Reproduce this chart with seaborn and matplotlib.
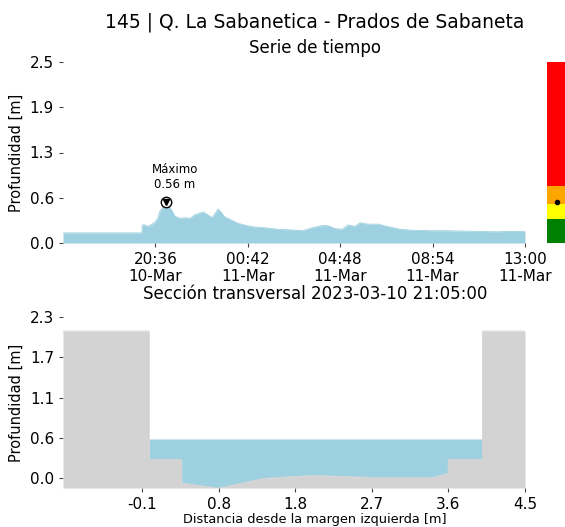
import numpy as np
import pandas as pd
import seaborn as sns
import matplotlib.pyplot as plt
import matplotlib.dates as mdates

# serie de tiempo (profundidad en m)
times = ["2023-03-10 16:30", "2023-03-10 20:00", "2023-03-10 20:01", "2023-03-10 20:08",
         "2023-03-10 20:16", "2023-03-10 20:27", "2023-03-10 20:35", "2023-03-10 20:43",
         "2023-03-10 20:48", "2023-03-10 21:05", "2023-03-10 21:15", "2023-03-10 21:28",
         "2023-03-10 21:41", "2023-03-10 21:55", "2023-03-10 22:08", "2023-03-10 22:21",
         "2023-03-10 22:43", "2023-03-10 23:07", "2023-03-10 23:23", "2023-03-10 23:41",
         "2023-03-11 00:16", "2023-03-11 00:53", "2023-03-11 01:28", "2023-03-11 02:02",
         "2023-03-11 02:40", "2023-03-11 03:09", "2023-03-11 03:33", "2023-03-11 03:59",
         "2023-03-11 04:15", "2023-03-11 04:34", "2023-03-11 04:53", "2023-03-11 05:09",
         "2023-03-11 05:27", "2023-03-11 05:41", "2023-03-11 06:02", "2023-03-11 06:29",
         "2023-03-11 07:00", "2023-03-11 07:27", "2023-03-11 08:02", "2023-03-11 08:47",
         "2023-03-11 09:32", "2023-03-11 10:15", "2023-03-11 11:00", "2023-03-11 11:45",
         "2023-03-11 12:12", "2023-03-11 13:00"]
depth = [0.14, 0.14, 0.25, 0.25, 0.23, 0.26, 0.29, 0.35, 0.44, 0.56, 0.49, 0.37,
         0.34, 0.35, 0.34, 0.39, 0.43, 0.35, 0.47, 0.36, 0.27, 0.225, 0.21, 0.19,
         0.18, 0.17, 0.21, 0.24, 0.24, 0.20, 0.19, 0.25, 0.23, 0.28, 0.26, 0.26,
         0.22, 0.19, 0.175, 0.17, 0.17, 0.165, 0.16, 0.155, 0.16, 0.16]
t_start, t_end = "2023-03-10 16:30", "2023-03-11 13:00"
max_time, max_depth = "2023-03-10 21:05", 0.56

# umbrales de alerta
alert_levels = [0.0, 0.33, 0.54, 0.79, 2.5]
alert_colors = ["green", "yellow", "orange", "red"]

# seccion transversal
section_x = [-1.03, 0.0, 0.0, 0.39, 0.39, 0.83, 1.39, 1.8, 2.0, 2.7, 3.4, 3.58, 3.58, 3.99, 3.99, 4.5]
section_y = [2.1, 2.1, 0.27, 0.27, -0.07, -0.14, 0.0, 0.03, 0.04, 0.01, 0.01, 0.07, 0.27, 0.27, 2.1, 2.1]
water_level = 0.56

water_color = "#9dd0e0"
ground_color = "lightgray"

sns.set_style("ticks")
plt.rcParams['font.family'] = ['DejaVu Sans']
plt.rcParams['text.color'] = 'black'
plt.rcParams['axes.labelcolor'] = 'black'
plt.rcParams['xtick.labelcolor'] = 'black'
plt.rcParams['ytick.labelcolor'] = 'black'

fig = plt.figure(figsize=(5.65, 5.27), dpi=100)
W, H = 565, 527

def px_axes(x0, y0, x1, y1):
    return fig.add_axes([x0 / W, 1 - y1 / H, (x1 - x0) / W, (y1 - y0) / H])

# --- serie de tiempo ---
ax1 = px_axes(63, 62, 525, 243)
ts = pd.DataFrame({"t": pd.to_datetime(times), "d": depth})
ax1.fill_between(ts["t"], 0, ts["d"], color=water_color, lw=0)
sns.lineplot(data=ts, x="t", y="d", color=water_color, lw=0.6, ax=ax1)
t0, t1 = mdates.date2num(pd.to_datetime(t_start)), mdates.date2num(pd.to_datetime(t_end))
ax1.set_xlim(t0, t1)
ax1.set_ylim(0, 2.5)
ax1.set_xticks(np.linspace(t0, t1, 6)[1:])
ax1.xaxis.set_major_formatter(mdates.DateFormatter("%H:%M\n%d-%b"))
ax1.set_yticks(np.linspace(0, 2.5, 5))
ax1.set_yticklabels(["0.0", "0.6", "1.3", "1.9", "2.5"])
ax1.set_xlabel("")
ax1.set_ylabel("Profundidad [m]", fontsize=10.5)
mt = pd.to_datetime(max_time)
ax1.plot(mt, max_depth, "o", ms=7.5, mfc="white", mec="black", mew=1)
ax1.plot(mt, max_depth, "v", ms=4, color="black")
ax1.annotate("Máximo\n0.56 m", (mt, max_depth), xytext=(6, 8), textcoords="offset points",
             ha="center", va="bottom", fontsize=8.5)

# --- barra de alertas ---
ax3 = px_axes(547, 62, 567, 243)
for lo, hi, c in zip(alert_levels[:-1], alert_levels[1:], alert_colors):
    ax3.axhspan(lo, hi, color=c, lw=0)
ax3.plot(0.5, max_depth, "o", color="black", ms=3)
ax3.set_xlim(0, 1)
ax3.set_ylim(0, 2.5)
ax3.axis("off")

# --- seccion transversal ---
ax2 = px_axes(63, 317, 525, 488)
sx = np.array(section_x)
sy = np.array(section_y)
ymin = sy.min()
ax2.fill_between(sx, water_level, sy, where=sy < water_level, interpolate=True,
                 color=water_color, lw=0)
ax2.fill_between(sx, ymin, sy, color=ground_color, lw=0)
sns.lineplot(x=sx, y=sy, color=ground_color, lw=0.6, sort=False, estimator=None, ax=ax2)
ax2.set_xlim(sx.min(), sx.max())
ax2.set_ylim(ymin, 2.3)
xt = np.linspace(-1.0, 4.5, 7)[1:]
ax2.set_xticks(xt)
ax2.set_xticklabels([f"{v:.1f}" for v in xt])
ax2.set_yticks(np.linspace(0, 2.3, 5))
ax2.set_yticklabels(["0.0", "0.6", "1.1", "1.7", "2.3"])
ax2.set_ylabel("Profundidad [m]", fontsize=10.5)
ax2.set_xlabel("Distancia desde la margen izquierda [m]", fontsize=9.3)
ax2.xaxis.set_label_coords((315 - 63) / 462, -0.145)

for ax in (ax1, ax2):
    for s in ax.spines.values():
        s.set_visible(False)
    ax.tick_params(labelsize=11, length=3, width=0.8, color="#444444")

fig.text(315 / W, 1 - 22 / H, "145 | Q. La Sabanetica - Prados de Sabaneta",
         ha="center", va="center", fontsize=13.5)
fig.text(315 / W, 1 - 48 / H, "Serie de tiempo", ha="center", va="center", fontsize=12)
fig.text(315 / W, 1 - 294 / H, "Sección transversal 2023-03-10 21:05:00",
         ha="center", va="center", fontsize=12)

fig.savefig("out.png", dpi=100)
